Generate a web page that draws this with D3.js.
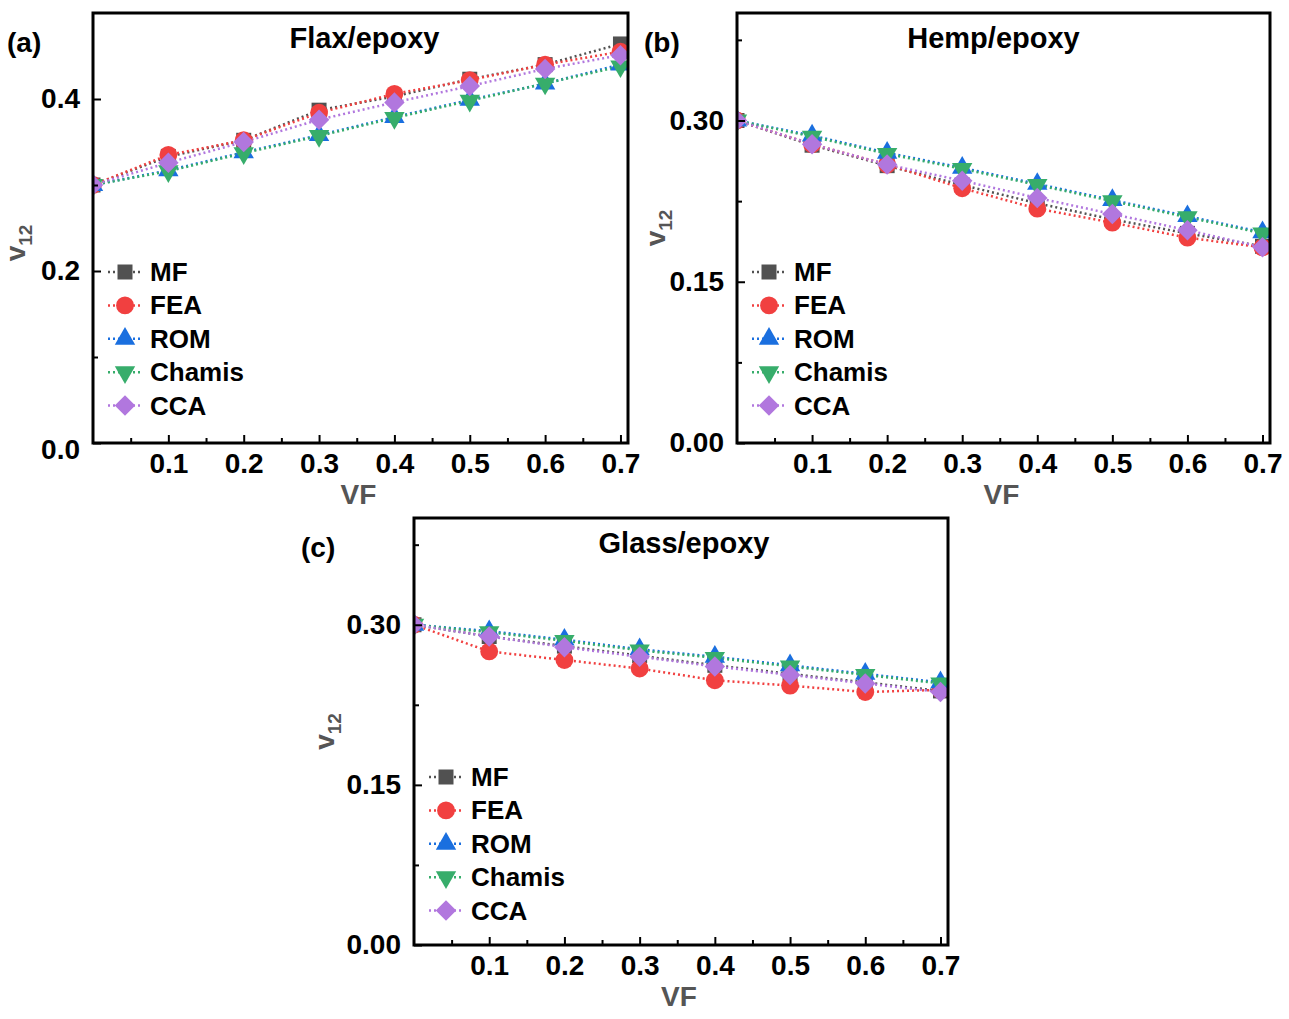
<!DOCTYPE html>
<html>
<head>
<meta charset="utf-8">
<script src="https://cdn.jsdelivr.net/npm/d3@7"></script>
<style>
  body { margin: 0; background: #fff; }
  text { font-family: "Liberation Sans", Arial, sans-serif; font-weight: bold; }
</style>
</head>
<body>
<svg id="chart" width="1289" height="1019"></svg>
<script>
// volume fraction (x) shared by all panels
const vf = [0, 0.1, 0.2, 0.3, 0.4, 0.5, 0.6, 0.7];
const methods = ['MF', 'FEA', 'ROM', 'Chamis', 'CCA'];
const colors = ['#515151', '#f14040', '#1a6fdf', '#37ad6b', '#b177de'];

// (a) flax/epoxy v12
const flaxMF     = [0.300, 0.333, 0.352, 0.387, 0.403, 0.423, 0.440, 0.464];
const flaxFEA    = [0.300, 0.335, 0.352, 0.384, 0.406, 0.422, 0.440, 0.455];
const flaxROM    = [0.300, 0.317, 0.338, 0.358, 0.379, 0.399, 0.418, 0.440];
const flaxChamis = [0.300, 0.316, 0.337, 0.357, 0.378, 0.398, 0.418, 0.438];
const flaxCCA    = [0.300, 0.326, 0.350, 0.376, 0.396, 0.415, 0.435, 0.451];

// (b) hemp/epoxy v12
const hempMF     = [0.300, 0.277, 0.258, 0.240, 0.223, 0.208, 0.195, 0.183];
const hempFEA    = [0.300, 0.278, 0.259, 0.237, 0.218, 0.205, 0.191, 0.182];
const hempROM    = [0.300, 0.286, 0.270, 0.256, 0.241, 0.226, 0.211, 0.196];
const hempChamis = [0.300, 0.285, 0.269, 0.255, 0.240, 0.225, 0.210, 0.195];
const hempCCA    = [0.300, 0.278, 0.259, 0.244, 0.228, 0.213, 0.198, 0.182];

// (c) glass/epoxy v12
const glassMF     = [0.300, 0.289, 0.280, 0.271, 0.262, 0.254, 0.246, 0.238];
const glassFEA    = [0.300, 0.275, 0.267, 0.259, 0.248, 0.243, 0.237, 0.239];
const glassROM    = [0.300, 0.294, 0.286, 0.277, 0.270, 0.262, 0.254, 0.246];
const glassChamis = [0.300, 0.293, 0.285, 0.276, 0.269, 0.261, 0.253, 0.245];
const glassCCA    = [0.300, 0.289, 0.279, 0.270, 0.261, 0.253, 0.245, 0.237];

const xTicks = [0.1, 0.2, 0.3, 0.4, 0.5, 0.6, 0.7];
const xMinor = [0.05, 0.15, 0.25, 0.35, 0.45, 0.55, 0.65];

const panels = [
  { tag: '(a)', title: 'Flax/epoxy', series: [flaxMF, flaxFEA, flaxROM, flaxChamis, flaxCCA],
    box: { left: 93, top: 13, right: 628, bottom: 443 }, yMax: 0.5,
    yTicks: [0, 0.2, 0.4], yMinor: [0.1, 0.3], fmt: '.1f', zeroDy: '0.55em',
    tagDx: -86, titleDx: 4, ylabDx: -68, ylabDy: 15 },
  { tag: '(b)', title: 'Hemp/epoxy', series: [hempMF, hempFEA, hempROM, hempChamis, hempCCA],
    box: { left: 737, top: 13, right: 1270, bottom: 443 }, yMax: 0.4,
    yTicks: [0, 0.15, 0.3], yMinor: [0.075, 0.225, 0.375], fmt: '.2f', zeroDy: '0.32em',
    tagDx: -93, titleDx: -10, ylabDx: -72, ylabDy: 0 },
  { tag: '(c)', title: 'Glass/epoxy', series: [glassMF, glassFEA, glassROM, glassChamis, glassCCA],
    box: { left: 414, top: 518, right: 948, bottom: 945 }, yMax: 0.4,
    yTicks: [0, 0.15, 0.3], yMinor: [0.075, 0.225, 0.375], fmt: '.2f', zeroDy: '0.32em',
    tagDx: -113, titleDx: 3, ylabDx: -80, ylabDy: 0 }
];

// marker shapes, in the order of methods
const shapes = [
  { type: d3.symbolSquare, size: 225, rot: 0 },
  { type: d3.symbolCircle, size: 250, rot: 0 },
  { type: d3.symbolTriangle, size: 180, rot: 0 },
  { type: d3.symbolTriangle, size: 180, rot: 180 },
  { type: d3.symbolSquare, size: 210, rot: 45 }
];

const svg = d3.select('#chart');

panels.forEach((p, pi) => {
  const b = p.box;
  const x = d3.scaleLinear().domain([0, 0.71]).range([b.left, b.right]);
  const y = d3.scaleLinear().domain([0, p.yMax]).range([b.bottom, b.top]);
  const g = svg.append('g');

  // clip so edge markers get cut by the frame
  const clipId = 'clip' + pi;
  svg.append('clipPath').attr('id', clipId)
    .append('rect').attr('x', b.left).attr('y', b.top)
    .attr('width', b.right - b.left).attr('height', b.bottom - b.top);

  const plot = g.append('g').attr('clip-path', `url(#${clipId})`);
  const line = d3.line().x((d, i) => x(vf[i])).y(d => y(d));

  p.series.forEach((s, si) => {
    plot.append('path')
      .datum(s)
      .attr('d', line)
      .attr('fill', 'none')
      .attr('stroke', colors[si])
      .attr('stroke-width', 2.5)
      .attr('stroke-dasharray', '2,3');
  });
  p.series.forEach((s, si) => {
    const sym = d3.symbol().type(shapes[si].type).size(shapes[si].size);
    plot.selectAll(null)
      .data(s)
      .join('path')
      .attr('d', sym)
      .attr('transform', (d, i) => `translate(${x(vf[i])},${y(d)}) rotate(${shapes[si].rot})`)
      .attr('fill', colors[si]);
  });

  // axes with inward ticks
  const xAxis = d3.axisBottom(x).tickValues(xTicks).tickFormat(d3.format('.1f'))
    .tickSizeInner(-8).tickSizeOuter(0).tickPadding(10);
  const xg = g.append('g').attr('transform', `translate(0,${b.bottom})`).call(xAxis);
  g.append('g').attr('transform', `translate(0,${b.bottom})`)
    .call(d3.axisBottom(x).tickValues(xMinor).tickFormat('').tickSizeInner(-5).tickSizeOuter(0));

  const yAxis = d3.axisLeft(y).tickValues(p.yTicks).tickFormat(d3.format(p.fmt))
    .tickSizeInner(-8).tickSizeOuter(0).tickPadding(13);
  const yg = g.append('g').attr('transform', `translate(${b.left},0)`).call(yAxis);
  g.append('g').attr('transform', `translate(${b.left},0)`)
    .call(d3.axisLeft(y).tickValues(p.yMinor).tickFormat('').tickSizeInner(-5).tickSizeOuter(0));

  g.selectAll('.domain').remove();
  g.selectAll('.tick line').attr('stroke', '#000').attr('stroke-width', 2);
  [xg, yg].forEach(ax => ax.selectAll('.tick text')
    .attr('font-size', 28).attr('fill', '#000')
    .style('font-family', '"Liberation Sans", Arial, sans-serif').style('font-weight', 'bold'));
  yg.selectAll('.tick text').filter(d => d === 0).attr('dy', p.zeroDy);

  // frame
  g.append('rect')
    .attr('x', b.left).attr('y', b.top)
    .attr('width', b.right - b.left).attr('height', b.bottom - b.top)
    .attr('fill', 'none').attr('stroke', '#000').attr('stroke-width', 3);

  // title and panel tag
  const cx = (b.left + b.right) / 2;
  g.append('text').attr('x', cx + p.titleDx).attr('y', b.top + 35)
    .attr('text-anchor', 'middle').attr('font-size', 29).text(p.title);
  g.append('text').attr('x', b.left + p.tagDx).attr('y', b.top + 39)
    .attr('font-size', 28).text(p.tag);

  // axis titles
  const yl = g.append('text')
    .attr('transform', `translate(${b.left + p.ylabDx},${(b.top + b.bottom) / 2 + p.ylabDy}) rotate(-90)`)
    .attr('text-anchor', 'middle').attr('fill', '#555').attr('font-size', 28);
  yl.append('tspan').text('v');
  yl.append('tspan').attr('font-size', 19).attr('dy', 7).text('12');
  g.append('text').attr('x', cx - 2).attr('y', b.bottom + 61)
    .attr('text-anchor', 'middle').attr('fill', '#555').attr('font-size', 28).text('VF');

  // legend
  const leg = g.append('g');
  methods.forEach((m, si) => {
    const ly = b.top + 259 + si * 33.4;
    const mx = b.left + 32;
    leg.append('line').attr('x1', mx - 17).attr('x2', mx + 17)
      .attr('y1', ly).attr('y2', ly)
      .attr('stroke', colors[si]).attr('stroke-width', 2.5).attr('stroke-dasharray', '2,3');
    leg.append('path')
      .attr('d', d3.symbol().type(shapes[si].type).size(shapes[si].size))
      .attr('transform', `translate(${mx},${ly}) rotate(${shapes[si].rot})`)
      .attr('fill', colors[si]);
    leg.append('text').attr('x', mx + 25).attr('y', ly + 9)
      .attr('font-size', 26).attr('fill', '#000').text(m);
  });
});
</script>
</body>
</html>
